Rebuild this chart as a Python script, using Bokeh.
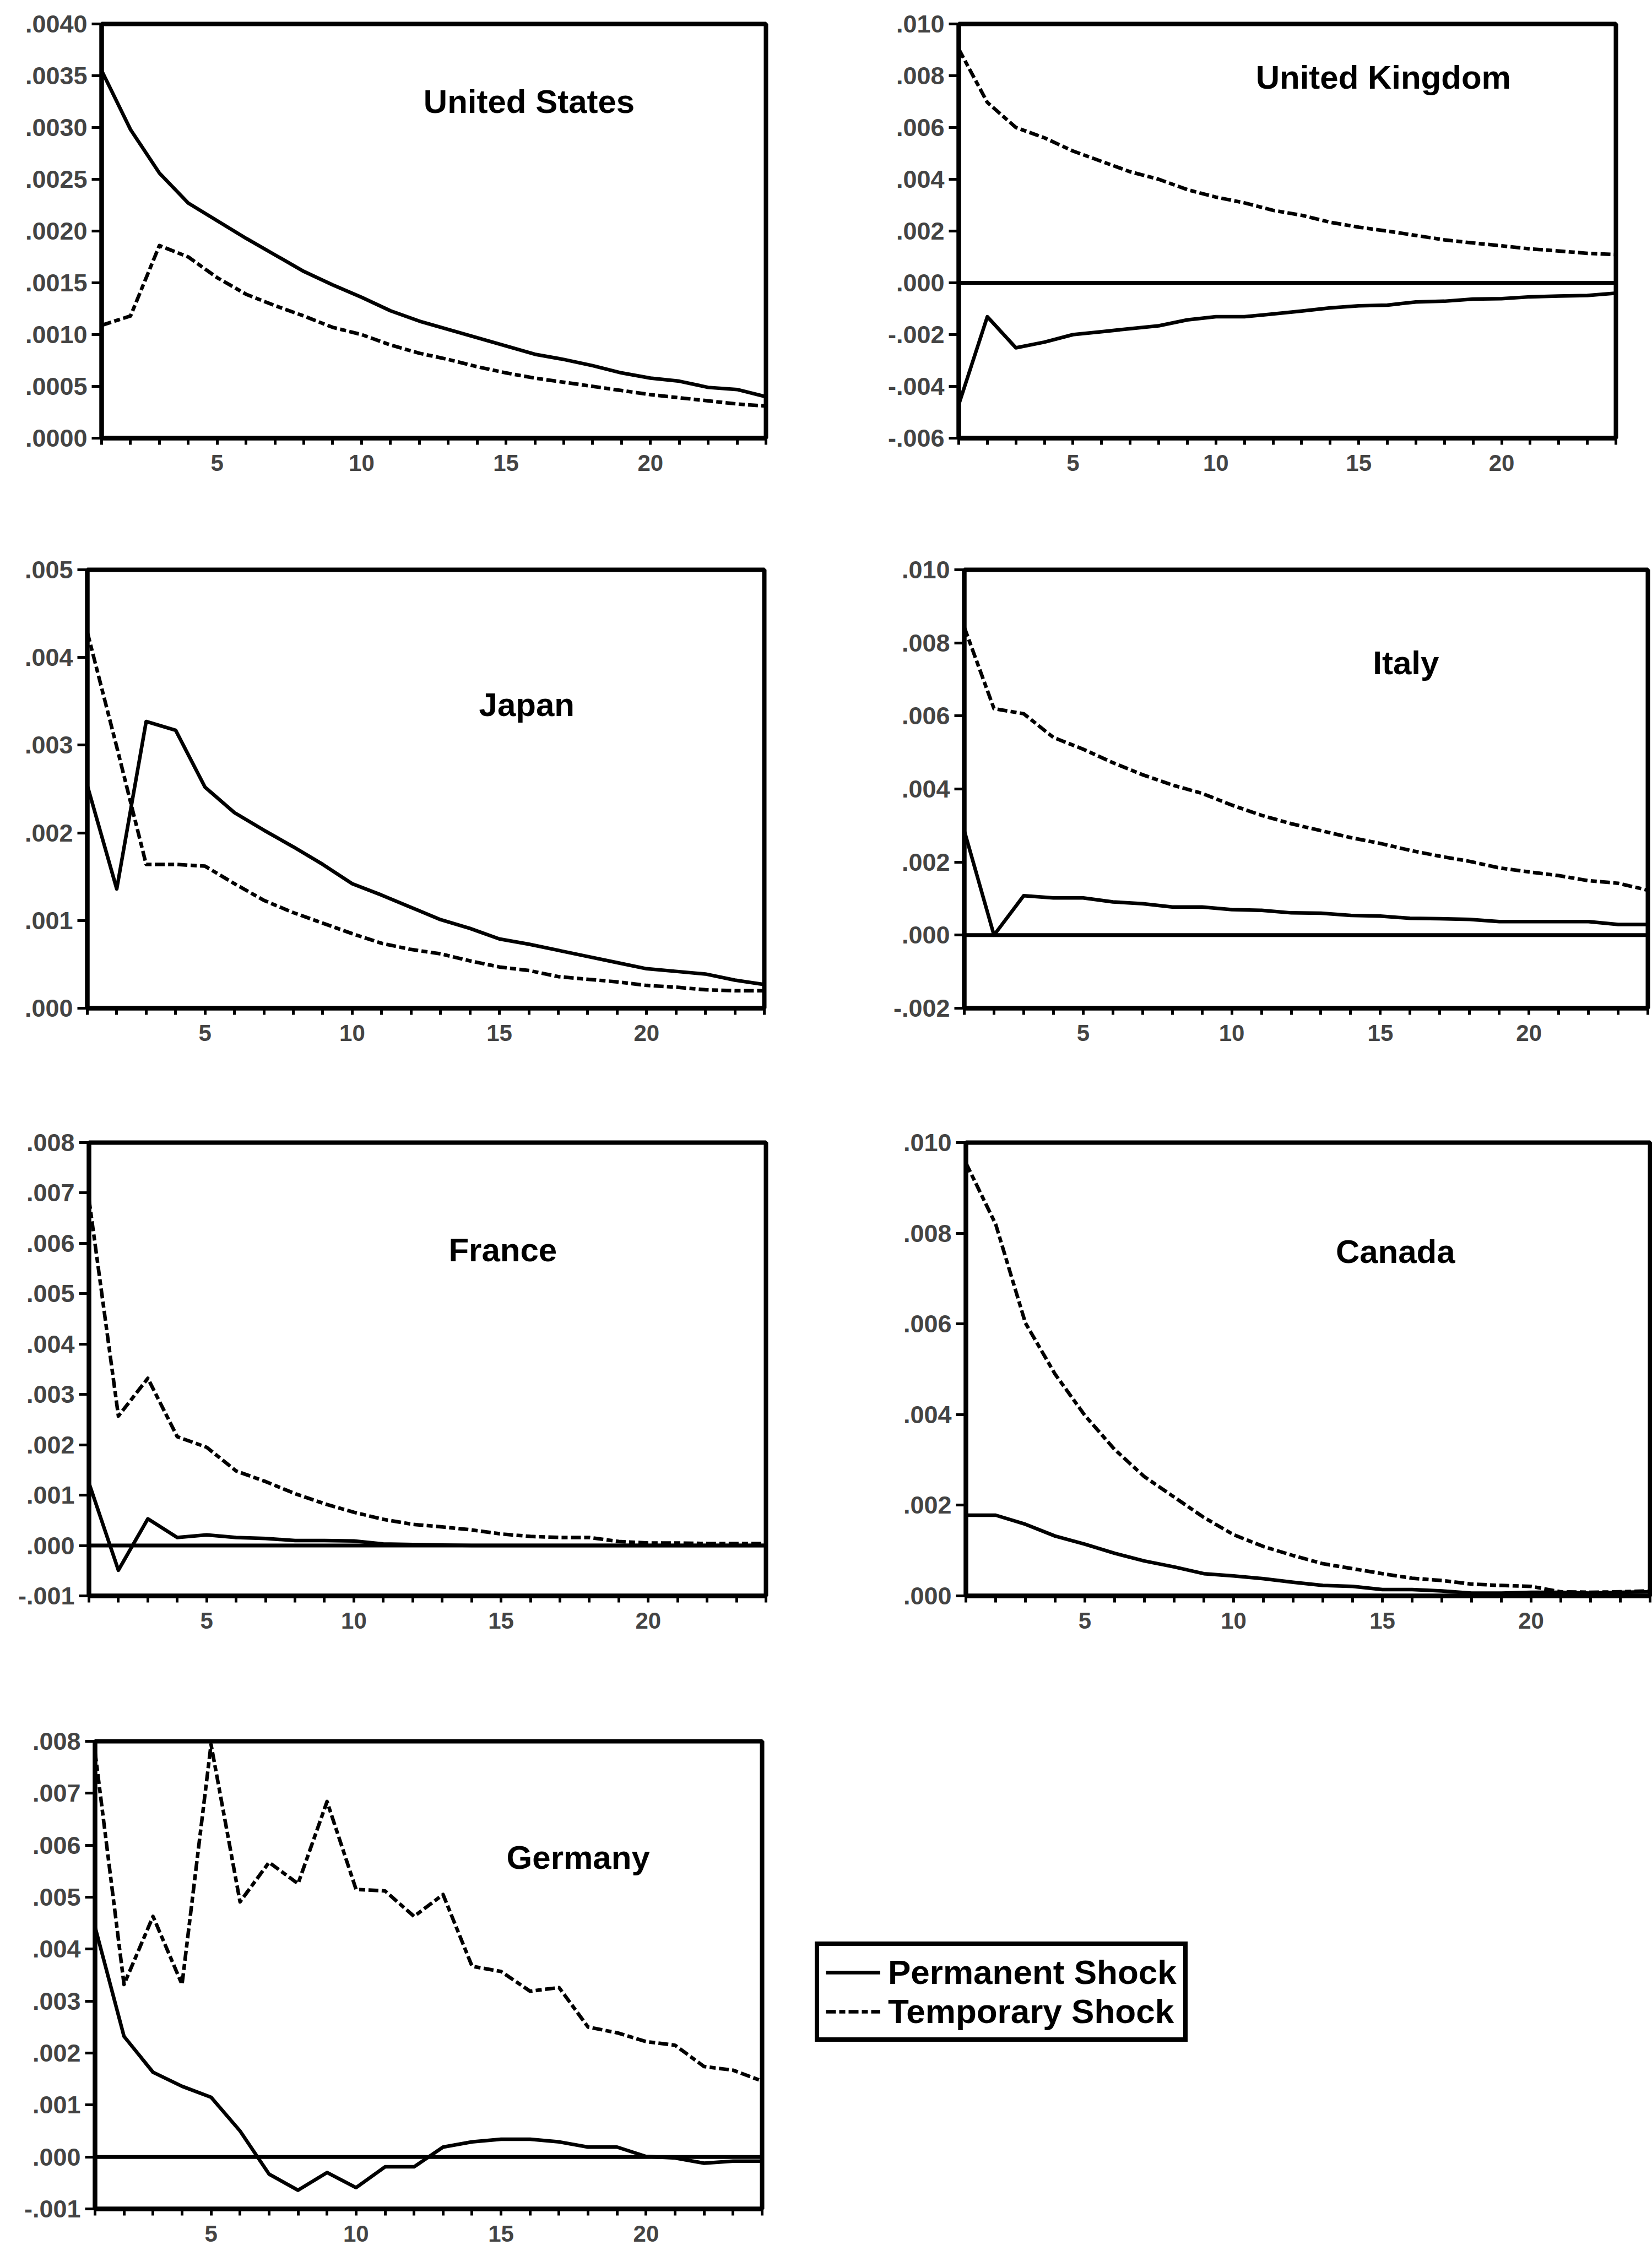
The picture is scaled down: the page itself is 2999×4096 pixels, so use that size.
from bokeh.plotting import figure
from bokeh.models import Range1d, FixedTicker, Span, Label, Legend, LegendItem
from bokeh.layouts import column, row
from bokeh.embed import file_html
from bokeh.resources import INLINE

periods = list(range(1, 25))

us_perm = [0.00355, 0.00298, 0.00256, 0.00227, 0.00210, 0.00193, 0.00177, 0.00161, 0.00148, 0.00136,
           0.00123, 0.00113, 0.00105, 0.00097, 0.00089, 0.00081, 0.00076, 0.00070, 0.00063, 0.00058,
           0.00055, 0.00049, 0.00047, 0.00040]
us_temp = [0.00109, 0.00118, 0.00186, 0.00175, 0.00155, 0.00139, 0.00128, 0.00118, 0.00107, 0.00100,
           0.00090, 0.00082, 0.00076, 0.00069, 0.00063, 0.00058, 0.00054, 0.00050, 0.00046, 0.00042,
           0.00039, 0.00036, 0.00033, 0.00031]

uk_perm = [-0.00470, -0.00131, -0.00251, -0.00229, -0.00200, -0.00189, -0.00177, -0.00166, -0.00143, -0.00131,
           -0.00131, -0.00120, -0.00109, -0.00097, -0.00089, -0.00086, -0.00074, -0.00071, -0.00063, -0.00061,
           -0.00054, -0.00051, -0.00049, -0.00040]
uk_temp = [0.00903, 0.00697, 0.00600, 0.00560, 0.00509, 0.00469, 0.00429, 0.00400, 0.00360, 0.00331,
           0.00309, 0.00280, 0.00261, 0.00234, 0.00215, 0.00200, 0.00183, 0.00166, 0.00154, 0.00143,
           0.00131, 0.00123, 0.00114, 0.00109]

jp_perm = [0.00254, 0.00136, 0.00327, 0.00317, 0.00252, 0.00223, 0.00203, 0.00184, 0.00164, 0.00142,
           0.00129, 0.00115, 0.00101, 0.00091, 0.00079, 0.00073, 0.00066, 0.00059, 0.00052, 0.00045,
           0.00042, 0.00039, 0.00032, 0.00027]
jp_temp = [0.00429, 0.00298, 0.00164, 0.00164, 0.00162, 0.00142, 0.00123, 0.00109, 0.00097, 0.00085,
           0.00074, 0.00067, 0.00062, 0.00054, 0.00047, 0.00043, 0.00036, 0.00033, 0.00030, 0.00026,
           0.00024, 0.00021, 0.00020, 0.00020]

it_perm = [0.00286, 0.00000, 0.00108, 0.00102, 0.00102, 0.00091, 0.00086, 0.00077, 0.00077, 0.00070,
           0.00068, 0.00061, 0.00060, 0.00054, 0.00052, 0.00046, 0.00045, 0.00043, 0.00037, 0.00037,
           0.00037, 0.00037, 0.00029, 0.00029]
it_temp = [0.00843, 0.00620, 0.00606, 0.00541, 0.00509, 0.00472, 0.00439, 0.00411, 0.00388, 0.00356,
           0.00328, 0.00305, 0.00286, 0.00267, 0.00251, 0.00232, 0.00216, 0.00202, 0.00184, 0.00173,
           0.00163, 0.00149, 0.00142, 0.00123]

fr_perm = [0.00124, -0.00049, 0.00053, 0.00016, 0.00021, 0.00016, 0.00014, 0.00010, 0.00010, 0.00009,
           0.00003, 0.00002, 0.00001, 0.00000, 0.00000, 0.00000, 0.00000, 0.00000, 0.00000, 0.00000,
           0.00000, 0.00000, 0.00000, 0.00000]
fr_temp = [0.00688, 0.00257, 0.00332, 0.00216, 0.00195, 0.00148, 0.00127, 0.00103, 0.00083, 0.00066,
           0.00052, 0.00042, 0.00037, 0.00031, 0.00023, 0.00018, 0.00016, 0.00016, 0.00008, 0.00005,
           0.00005, 0.00004, 0.00004, 0.00004]

ca_perm = [0.00178, 0.00178, 0.00158, 0.00132, 0.00114, 0.00094, 0.00077, 0.00064, 0.00049, 0.00044,
           0.00038, 0.00030, 0.00023, 0.00021, 0.00014, 0.00014, 0.00011, 0.00006, 0.00006, 0.00008,
           0.00008, 0.00006, 0.00008, 0.00009]
ca_temp = [0.00955, 0.00820, 0.00602, 0.00489, 0.00398, 0.00323, 0.00263, 0.00218, 0.00173, 0.00135,
           0.00109, 0.00089, 0.00071, 0.00060, 0.00049, 0.00039, 0.00034, 0.00026, 0.00023, 0.00021,
           0.00009, 0.00008, 0.00009, 0.00011]

de_perm = [0.00443, 0.00232, 0.00163, 0.00136, 0.00115, 0.00050, -0.00033, -0.00064, -0.00030, -0.00059,
           -0.00019, -0.00019, 0.00019, 0.00029, 0.00034, 0.00034, 0.00029, 0.00019, 0.00019, 0.00001,
           -0.00002, -0.00012, -0.00008, -0.00008]
de_temp = [0.00780, 0.00332, 0.00463, 0.00332, 0.00794, 0.00491, 0.00567, 0.00526, 0.00684, 0.00515,
           0.00512, 0.00463, 0.00505, 0.00367, 0.00357, 0.00319, 0.00326, 0.00250, 0.00239, 0.00222,
           0.00215, 0.00174, 0.00167, 0.00146]

names = ["United States", "United Kingdom", "Japan", "Italy", "France", "Canada", "Germany"]
legend_labels = ["Permanent Shock", "Temporary Shock"]
x_tick_labels = {5: "5", 10: "10", 15: "15", 20: "20"}

FONT = "Liberation Sans"
DASH = "18 6 11 6"
LW = 6.5
FRAME_W = 8


def fmt(v, nd):
    s = f"{abs(v):.{nd}f}"
    if s.startswith("0"):
        s = s[1:]
    return ("-" if v < 0 else "") + s


def panel(name, perm, temp, ylo, yhi, ystep, nd, w, h, bl, br, bt, bb, tx, ty, zero):
    p = figure(width=w, height=h, output_backend="svg", toolbar_location=None,
               x_range=Range1d(1, 24), y_range=Range1d(ylo, yhi),
               min_border_left=bl, min_border_right=br, min_border_top=bt, min_border_bottom=bb)
    p.background_fill_color = "white"
    p.border_fill_color = "white"
    p.outline_line_color = "black"
    p.outline_line_width = FRAME_W
    p.xgrid.visible = False
    p.ygrid.visible = False

    xa = p.xaxis[0]
    xa.ticker = FixedTicker(ticks=periods)
    xa.major_label_overrides = {i: x_tick_labels.get(i, "") for i in periods}
    xa.minor_tick_line_color = None
    xa.major_tick_out = 12
    xa.major_tick_in = 0
    xa.major_tick_line_width = 5
    xa.axis_line_width = FRAME_W
    xa.major_label_standoff = 18
    xa.major_label_text_font = FONT
    xa.major_label_text_font_style = "bold"
    xa.major_label_text_font_size = "42px"

    n = int(round((yhi - ylo) / ystep))
    yt = [round(ylo + i * ystep, 6) for i in range(n + 1)]
    ya = p.yaxis[0]
    ya.ticker = FixedTicker(ticks=yt)
    ya.major_label_overrides = {v: fmt(v, nd) for v in yt}
    ya.minor_tick_line_color = None
    ya.major_tick_out = 18
    ya.major_tick_in = 0
    ya.major_tick_line_width = 5
    ya.axis_line_width = FRAME_W
    ya.major_label_standoff = 8
    ya.major_label_text_font = FONT
    ya.major_label_text_font_style = "bold"
    ya.major_label_text_font_size = "45px"

    if zero:
        p.add_layout(Span(location=0, dimension="width", line_color="black", line_width=7))

    p.line(periods, perm, line_color="black", line_width=LW, line_join="round")
    p.line(periods, temp, line_color="black", line_width=LW, line_dash=DASH, line_join="round")

    p.add_layout(Label(x=tx, y=ty, text=name, text_align="center", text_baseline="alphabetic",
                       text_font=FONT, text_font_style="bold", text_font_size="60px",
                       text_color="black"))
    return p


us = panel(names[0], us_perm, us_temp, 0.0, 0.004, 0.0005, 4, 1560, 930, 184, 170, 43, 134, 15.8, 0.00325, False)
uk = panel(names[1], uk_perm, uk_temp, -0.006, 0.010, 0.002, 3, 1439, 930, 180, 66, 35, 135, 15.86, 0.00794, True)
jp = panel(names[2], jp_perm, jp_temp, 0.0, 0.005, 0.001, 3, 1560, 1030, 158, 173, 104, 130, 15.93, 0.00346, False)
it = panel(names[3], it_perm, it_temp, -0.002, 0.010, 0.002, 3, 1439, 1030, 190, 8, 92, 130, 15.86, 0.00745, True)
fr = panel(names[4], fr_perm, fr_temp, -0.001, 0.008, 0.001, 3, 1560, 1100, 161, 170, 114, 162, 15.06, 0.00587, True)
ca = panel(names[5], ca_perm, ca_temp, 0.0, 0.010, 0.002, 3, 1439, 1100, 193, 4, 105, 163, 15.44, 0.00759, False)
de = panel(names[6], de_perm, de_temp, -0.001, 0.008, 0.001, 3, 1440, 1036, 172, 57, 101, 86, 17.66, 0.00576, True)

# legend panel (right of Germany)
nan = float("nan")
lg = figure(width=1559, height=1036, output_backend="svg", toolbar_location=None,
            x_range=Range1d(0, 1), y_range=Range1d(0, 1),
            x_axis_location=None, y_axis_location=None,
            min_border_left=0, min_border_right=0, min_border_top=0, min_border_bottom=0)
lg.outline_line_color = None
lg.xgrid.visible = False
lg.ygrid.visible = False
lr1 = lg.line(x=[nan], y=[nan], line_color="black", line_width=LW)
lr2 = lg.line(x=[nan], y=[nan], line_color="black", line_width=LW, line_dash=DASH)
legend = Legend(items=[LegendItem(label=legend_labels[0], renderers=[lr1]),
                       LegendItem(label=legend_labels[1], renderers=[lr2])],
                location=(39, 303))
legend.border_line_color = "black"
legend.border_line_alpha = 1.0
legend.border_line_width = 8
legend.background_fill_color = "white"
legend.background_fill_alpha = 1.0
legend.label_text_color = "black"
legend.label_text_font = FONT
legend.label_text_font_style = "bold"
legend.label_text_font_size = "62px"
legend.glyph_width = 99
legend.glyph_height = 56
legend.label_height = 56
legend.label_standoff = 14
legend.spacing = 0
legend.padding = 12
legend.margin = 0
lg.add_layout(legend, "center")

layout = column(row(us, uk), row(jp, it), row(fr, ca), row(de, lg))

open("out.html", "w").write(file_html(layout, INLINE))
